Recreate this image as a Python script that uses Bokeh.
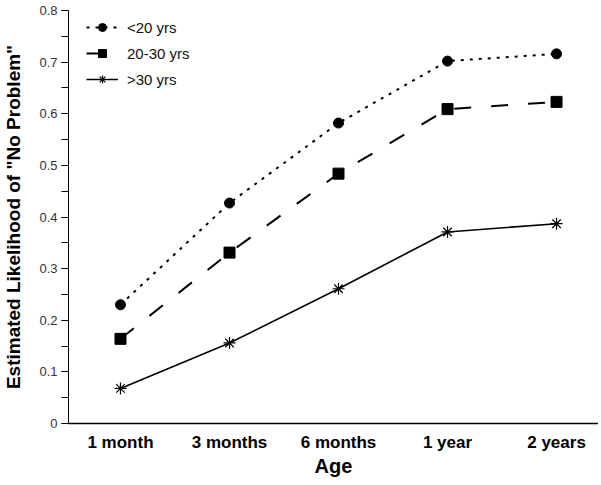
from bokeh.plotting import figure
from bokeh.models import Range1d, FixedTicker, Legend, LegendItem
from bokeh.embed import file_html
from bokeh.resources import INLINE

categories = ["1 month", "3 months", "6 months", "1 year", "2 years"]
under20 = [0.230, 0.427, 0.582, 0.702, 0.716]
age20_30 = [0.164, 0.331, 0.484, 0.609, 0.623]
over30 = [0.068, 0.156, 0.261, 0.371, 0.387]
y_ticks = [0, 0.1, 0.2, 0.3, 0.4, 0.5, 0.6, 0.7, 0.8]

xs = list(range(len(categories)))

p = figure(width=598, height=485, output_backend="svg", toolbar_location=None,
           x_range=Range1d(-0.477, 4.385), y_range=Range1d(0, 0.8),
           min_border_left=68, min_border_right=0, min_border_top=10, min_border_bottom=62)
p.outline_line_color = None
p.grid.visible = False
p.background_fill_color = "white"

FONT = "Liberation Sans"

l1 = p.line(xs, under20, line_color="black", line_width=2, line_dash="3 6")
m1 = p.scatter(xs, under20, marker="circle", size=10, fill_color="black", line_color="black")
l2 = p.line(xs, age20_30, line_color="black", line_width=2, line_dash="17 20")
m2 = p.scatter(xs, age20_30, marker="square", size=11, fill_color="black", line_color="black")
l3 = p.line(xs, over30, line_color="black", line_width=1.6)
m3 = p.scatter(xs, over30, marker="asterisk", size=12, line_color="black", line_width=1.2)

legend = Legend(items=[
    LegendItem(label="<20 yrs", renderers=[l1, m1]),
    LegendItem(label="20-30 yrs", renderers=[l2, m2]),
    LegendItem(label=">30 yrs", renderers=[l3, m3]),
], location=(18, 334))
legend.border_line_color = None
legend.background_fill_alpha = 0
legend.padding = 4
legend.margin = 0
legend.spacing = 6
legend.glyph_width = 32
legend.glyph_height = 20
legend.label_standoff = 9
legend.label_text_font = FONT
legend.label_text_font_size = "15px"
legend.label_text_color = "#111111"
p.add_layout(legend, "center")

# axes
p.xaxis.ticker = FixedTicker(ticks=xs)
p.xaxis.major_label_overrides = {i: c for i, c in enumerate(categories)}
p.xaxis.major_tick_line_color = None
p.xaxis.major_tick_out = 0
p.xaxis.major_tick_in = 0
p.xaxis.minor_tick_line_color = None
p.xaxis.major_label_text_font = FONT
p.xaxis.major_label_text_font_style = "bold"
p.xaxis.major_label_text_font_size = "17px"
p.xaxis.major_label_text_color = "black"
p.xaxis.major_label_standoff = 9
p.xaxis.axis_label = "Age"
p.xaxis.axis_label_text_font = FONT
p.xaxis.axis_label_text_font_style = "bold"
p.xaxis.axis_label_text_font_size = "20px"
p.xaxis.axis_label_text_color = "black"
p.xaxis.axis_label_standoff = 0
p.xaxis.axis_line_color = "black"
p.xaxis.axis_line_width = 1.5

p.yaxis.ticker = FixedTicker(ticks=y_ticks, minor_ticks=[i * 0.05 for i in range(17)])
p.yaxis.major_label_overrides = {0: "0"}
p.yaxis.major_tick_out = 7
p.yaxis.major_tick_in = 0
p.yaxis.minor_tick_out = 7
p.yaxis.minor_tick_in = 0
p.yaxis.major_tick_line_color = "black"
p.yaxis.minor_tick_line_color = "black"
p.yaxis.major_label_text_font = FONT
p.yaxis.major_label_text_font_size = "13px"
p.yaxis.major_label_text_color = "#333333"
p.yaxis.major_label_standoff = 4
p.yaxis.axis_label = 'Estimated Likelihood of "No Problem"'
p.yaxis.axis_label_text_font = FONT
p.yaxis.axis_label_text_font_style = "bold"
p.yaxis.axis_label_text_font_size = "19px"
p.yaxis.axis_label_text_color = "black"
p.yaxis.axis_label_standoff = 12
p.yaxis.axis_line_color = "black"

open("out.html", "w").write(file_html(p, INLINE))
